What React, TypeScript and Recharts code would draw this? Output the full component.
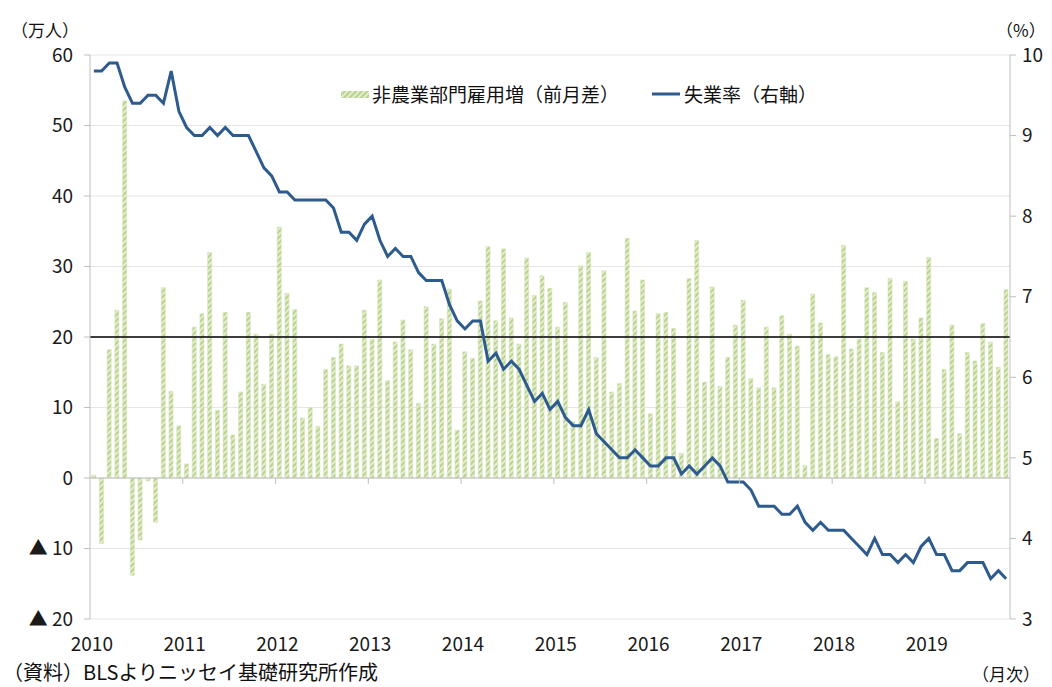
import React from 'react';
import {
  ComposedChart,
  Bar,
  Line,
  XAxis,
  YAxis,
  CartesianGrid,
  ReferenceLine,
  Legend,
} from 'recharts';

// 非農業部門雇用増（前月差、万人）2010/1〜2019/11
const payrolls = [
  0.4, -9.3, 18.2, 23.8, 53.5, -13.8, -8.8, -0.4, -6.3, 27.0, 12.3, 7.4,
  2.0, 21.4, 23.3, 32.0, 9.6, 23.5, 6.1, 12.2, 23.5, 20.4, 13.3, 20.4,
  35.6, 26.2, 23.9, 8.5, 10.0, 7.3, 15.4, 17.1, 19.0, 15.9, 15.9, 23.8,
  19.7, 28.1, 13.8, 19.3, 22.4, 18.2, 10.6, 24.3, 19.0, 22.6, 26.8, 6.8,
  17.9, 17.0, 25.1, 32.8, 22.3, 32.5, 22.7, 19.0, 31.2, 25.9, 28.7, 26.9,
  21.4, 24.9, 8.0, 30.1, 32.0, 17.1, 29.4, 12.2, 13.4, 34.0, 23.7, 28.1,
  9.1, 23.3, 23.5, 21.2, 3.5, 28.3, 33.7, 13.6, 27.1, 13.0, 17.1, 21.7,
  25.2, 14.1, 12.8, 21.4, 12.8, 23.0, 20.4, 18.7, 1.8, 26.1, 22.0, 17.5,
  17.2, 33.0, 18.3, 19.7, 27.0, 26.3, 17.8, 28.3, 10.8, 27.9, 19.7, 22.7,
  31.3, 5.6, 15.4, 21.7, 6.3, 17.8, 16.6, 21.9, 19.3, 15.7, 26.7,
];

// 失業率（%）
const unemployment = [
  9.8, 9.8, 9.9, 9.9, 9.6, 9.4, 9.4, 9.5, 9.5, 9.4, 9.8, 9.3,
  9.1, 9.0, 9.0, 9.1, 9.0, 9.1, 9.0, 9.0, 9.0, 8.8, 8.6, 8.5,
  8.3, 8.3, 8.2, 8.2, 8.2, 8.2, 8.2, 8.1, 7.8, 7.8, 7.7, 7.9,
  8.0, 7.7, 7.5, 7.6, 7.5, 7.5, 7.3, 7.2, 7.2, 7.2, 6.9, 6.7,
  6.6, 6.7, 6.7, 6.2, 6.3, 6.1, 6.2, 6.1, 5.9, 5.7, 5.8, 5.6,
  5.7, 5.5, 5.4, 5.4, 5.6, 5.3, 5.2, 5.1, 5.0, 5.0, 5.1, 5.0,
  4.9, 4.9, 5.0, 5.0, 4.8, 4.9, 4.8, 4.9, 5.0, 4.9, 4.7, 4.7,
  4.7, 4.6, 4.4, 4.4, 4.4, 4.3, 4.3, 4.4, 4.2, 4.1, 4.2, 4.1,
  4.1, 4.1, 4.0, 3.9, 3.8, 4.0, 3.8, 3.8, 3.7, 3.8, 3.7, 3.9,
  4.0, 3.8, 3.8, 3.6, 3.6, 3.7, 3.7, 3.7, 3.5, 3.6, 3.5,
];

const years = [2010, 2011, 2012, 2013, 2014, 2015, 2016, 2017, 2018, 2019];
const leftTicks = [-20, -10, 0, 10, 20, 30, 40, 50, 60];
const rightTicks = [3, 4, 5, 6, 7, 8, 9, 10];

const months: string[] = [];
years.forEach((y) => {
  for (let m = 1; m <= 12; m++) months.push(`${y}/${m}`);
});
const data = payrolls.map((p, i) => ({
  month: months[i],
  payroll: p,
  rate: unemployment[i],
}));
const yearTicks = years.map((y) => `${y}/1`);

// layout
const W = 1052;
const H = 687;
const TOP = 55;
const LEFT_W = 90;
const RIGHT_W = 42;
const BOTTOM = 68;
const PLOT_W = W - LEFT_W - RIGHT_W;
const PLOT_H = H - TOP - BOTTOM;
const ZERO_Y = TOP + (PLOT_H * 60) / 80;
const BAND = PLOT_W / data.length;

const FONT = '"Noto Sans CJK JP", "Noto Sans", sans-serif';
const AXIS_GRAY = '#bfbfbf';

const YearTick = (props: any) => {
  const { x, y, payload } = props;
  const edge = x - BAND / 2;
  return (
    <g>
      {payload.value !== '2010/1' && (
        <line x1={edge} x2={edge} y1={ZERO_Y} y2={ZERO_Y + 6} stroke={AXIS_GRAY} />
      )}
      <text x={x - 2} y={y} dy="0.71em" textAnchor="middle" fontSize={19} fill="#1a1a1a" fontFamily={FONT}>
        {payload.value.slice(0, 4)}
      </text>
    </g>
  );
};

const LegendContent = () => (
  <div style={{ display: 'flex', alignItems: 'center', fontFamily: FONT, fontSize: 19, color: '#111', whiteSpace: 'nowrap' }}>
    <svg width={30} height={10} style={{ marginRight: 2 }}>
      <rect x={1} y={2} width={28} height={7} fill="url(#hatch)" />
    </svg>
    <span>非農業部門雇用増（前月差）</span>
    <svg width={32} height={10} style={{ marginLeft: 31, marginRight: 2 }}>
      <line x1={2} x2={30} y1={5} y2={5} stroke="#2e5b8e" strokeWidth={3} />
    </svg>
    <span>失業率（右軸）</span>
  </div>
);

const textStyle: React.CSSProperties = {
  position: 'absolute',
  fontFamily: FONT,
  color: '#111',
  lineHeight: 1,
  whiteSpace: 'nowrap',
};

export default function App() {
  return (
    <div style={{ position: 'absolute', left: 0, top: 0, width: W, height: H, background: '#fff' }}>
      <ComposedChart
        width={W}
        height={H}
        data={data}
        margin={{ top: TOP, right: 0, bottom: BOTTOM - 30, left: 0 }}
        barCategoryGap="22%"
      >
        <defs>
          <pattern id="hatch" patternUnits="userSpaceOnUse" width="4" height="4" patternTransform="rotate(45)">
            <rect width="4" height="4" fill="#e4eecf" />
            <line x1="1" y1="0" x2="1" y2="4" stroke="#b4cf86" strokeWidth="1.8" />
          </pattern>
        </defs>
        <CartesianGrid yAxisId="left" vertical={false} stroke="#e6e6e6" />
        <XAxis
          dataKey="month"
          ticks={yearTicks}
          interval={0}
          height={30}
          axisLine={false}
          tickLine={false}
          tickSize={6}
          tickMargin={13}
          tick={<YearTick />}
        />
        <YAxis
          yAxisId="left"
          width={LEFT_W}
          domain={[-20, 60]}
          ticks={leftTicks}
          interval={0}
          allowDataOverflow
          stroke={AXIS_GRAY}
          tickSize={6}
          tickMargin={11}
          tick={{ fill: '#1a1a1a', fontSize: 19, fontFamily: FONT }}
          tickFormatter={(v: number) => (v < 0 ? `▲ ${-v}` : `${v}`)}
        />
        <YAxis
          yAxisId="right"
          orientation="right"
          width={RIGHT_W}
          domain={[3, 10]}
          ticks={rightTicks}
          interval={0}
          allowDataOverflow
          stroke={AXIS_GRAY}
          tickSize={6}
          tickMargin={6}
          tick={{ fill: '#1a1a1a', fontSize: 19, fontFamily: FONT }}
        />
        <ReferenceLine yAxisId="left" y={0} stroke={AXIS_GRAY} />
        <Bar
          yAxisId="left"
          dataKey="payroll"
          fill="url(#hatch)"
          stroke="#d3e3b6"
          strokeWidth={0.6}
          isAnimationActive={false}
        />
        <ReferenceLine yAxisId="left" y={20} stroke="#000" strokeWidth={1.3} />
        <Line
          yAxisId="right"
          type="linear"
          dataKey="rate"
          stroke="#2e5b8e"
          strokeWidth={3}
          dot={false}
          isAnimationActive={false}
        />
        <Legend
          layout="horizontal"
          verticalAlign="middle"
          align="center"
          content={<LegendContent />}
          wrapperStyle={{ position: 'absolute', top: 80, left: 340, width: 'auto' }}
        />
      </ComposedChart>
      <div style={{ ...textStyle, left: 11, top: 21, fontSize: 17 }}>（万人）</div>
      <div style={{ ...textStyle, left: 996, top: 21, fontSize: 17 }}>（%）</div>
      <div style={{ ...textStyle, left: 3, top: 662, fontSize: 20 }}>（資料）BLSよりニッセイ基礎研究所作成</div>
      <div style={{ ...textStyle, left: 972, top: 665, fontSize: 17 }}>（月次）</div>
    </div>
  );
}
